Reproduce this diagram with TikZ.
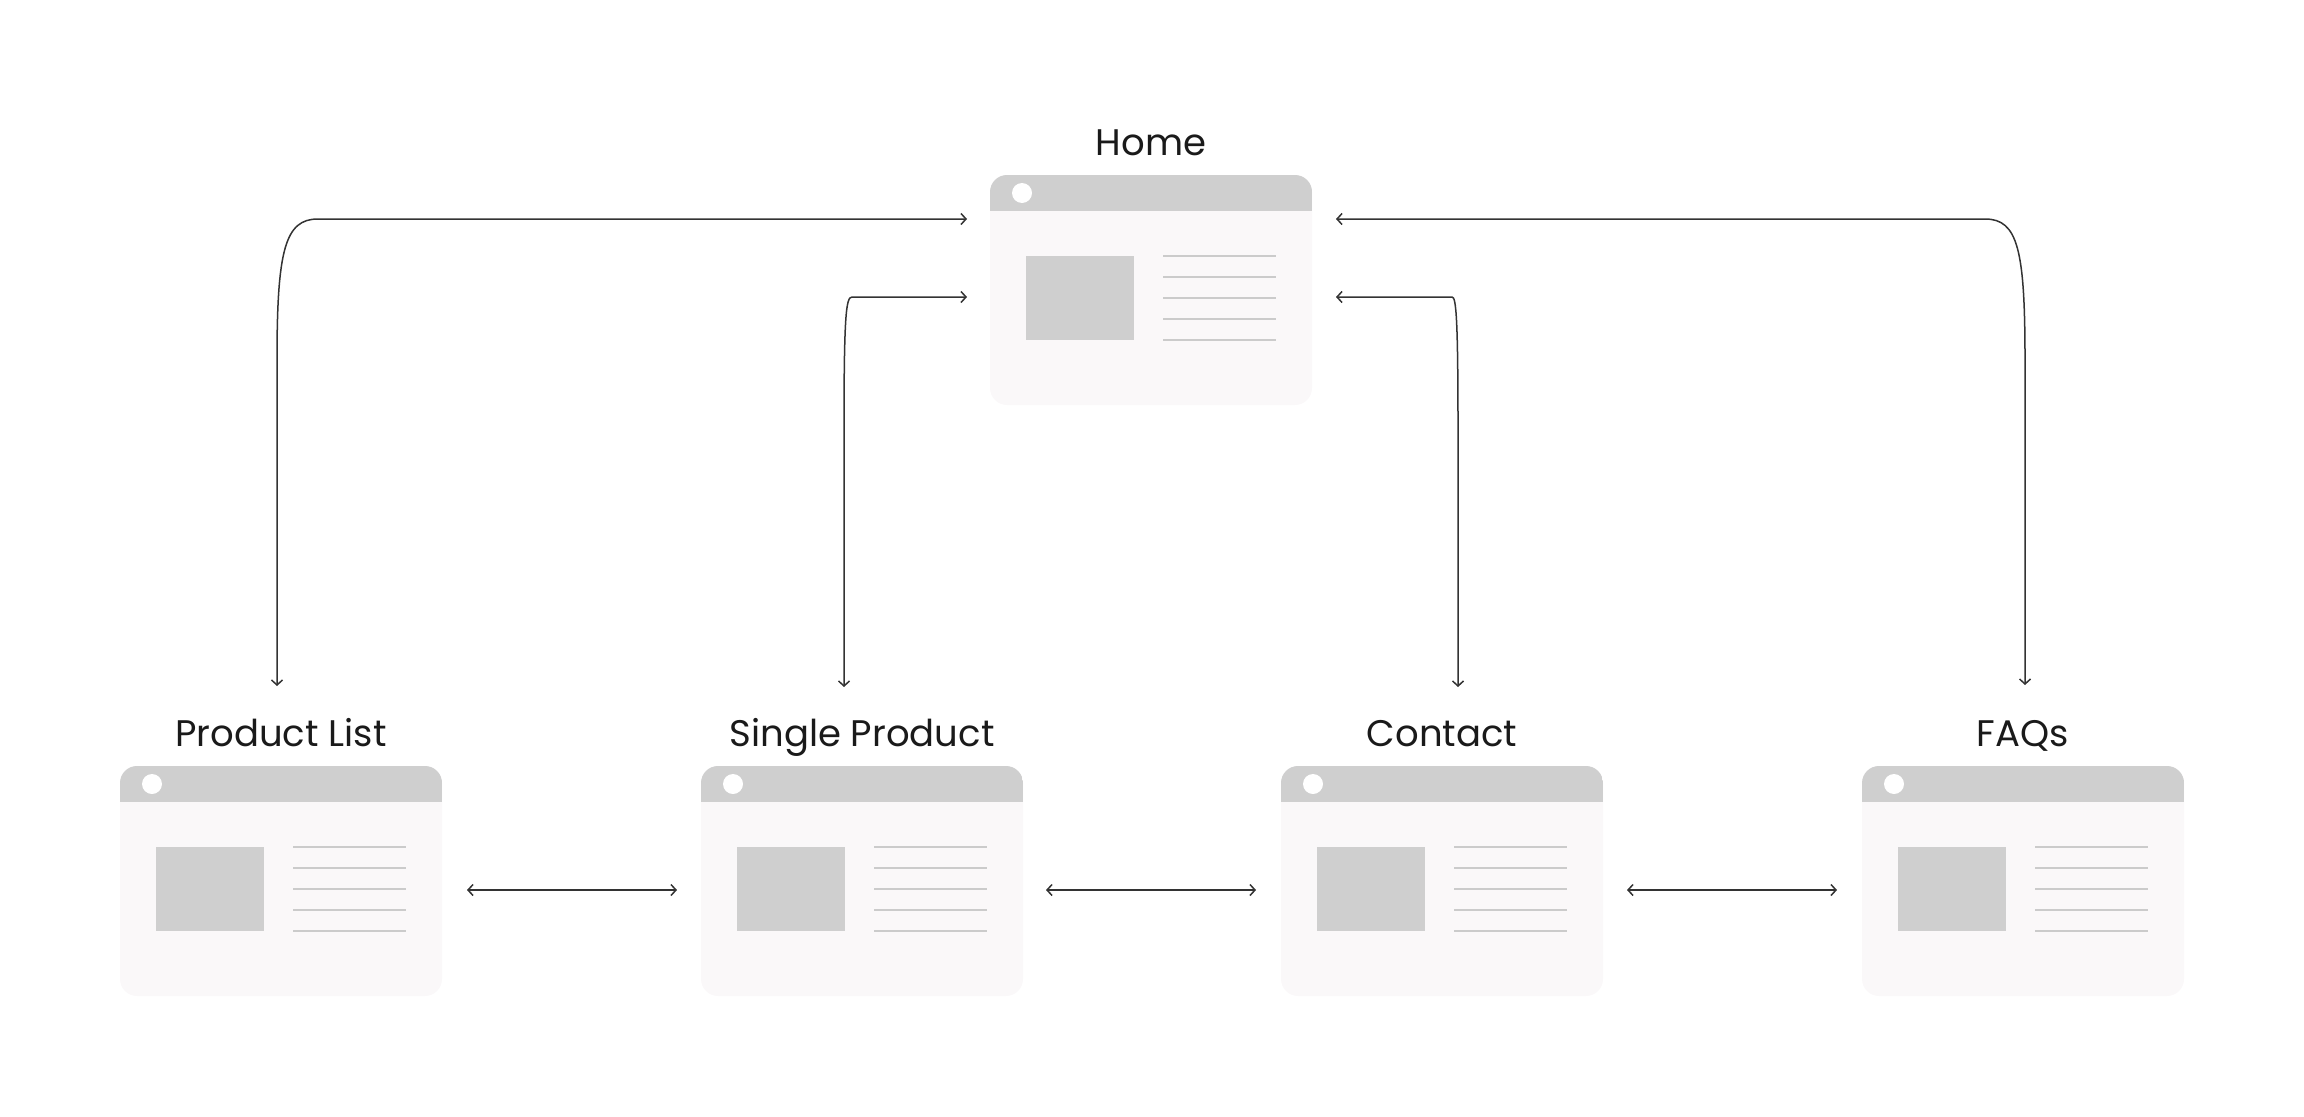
\documentclass[tikz,border=0pt]{standalone}
\usepackage{fontspec}
\setmainfont{Poppins}
\usetikzlibrary{arrows.meta,calc}

\definecolor{bodyfill}{HTML}{FAF8F9}
\definecolor{headfill}{HTML}{CFCFCF}
\definecolor{textline}{HTML}{CBCBCB}
\definecolor{linkcol}{HTML}{333333}
\definecolor{labelcol}{HTML}{1A1A1A}

\tikzset{
  page/.style={rectangle, rounded corners=17pt, fill=bodyfill,
    minimum width=322pt, minimum height=230pt, inner sep=0pt, outer sep=0pt},
  pagelabel/.style={anchor=base, inner sep=0pt,
    font=\fontsize{37}{44}\selectfont, text=labelcol},
  barb/.tip={Straight Barb[length=5pt,width=11pt]},
  link/.style={draw=linkcol, line width=1.5pt, barb-barb},
  textrule/.style={draw=textline, line width=1.5pt},
}

% A browser-window wireframe: name, left x, top y, title
\newcommand\webpage[4]{%
  \node[page] (#1) at (#2+161,#3+115) {};
  \begin{scope}[shift={(#1.north west)}]
    \begin{scope}
      \clip[rounded corners=17pt] (0,0) rectangle (322,230);
      \fill[headfill] (0,0) rectangle (322,36);
    \end{scope}
    \fill[white] (32,18) circle[radius=10pt];
    \fill[headfill] (36,81) rectangle (144,165);
    \foreach \yy in {81,102,123,144,165}
      \draw[textrule] (173,\yy) -- (286,\yy);
  \end{scope}
  \node[pagelabel] (#1-label) at ($(#1.north)+(0,-20)$) {#4};
}

\begin{document}
\begin{tikzpicture}[x=1pt,y=-1pt]
  \useasboundingbox (0,0) rectangle (2304,1116);

  \webpage{home}{990}{175}{Home}
  \webpage{pl}{120}{766}{Product List}
  \webpage{sp}{701}{766}{Single Product}
  \webpage{ct}{1281}{766}{Contact}
  \webpage{faq}{1862}{766}{FAQs}

  % links between the home page and each sub page
  \draw[link] ($(pl.north)+(-4,-80)$) -- (277,360)
    .. controls (277,250) and (285,219) .. (318,219)
    -- ($(home.north west)+(-23,44)$);
  \draw[link] ($(home.north east)+(24,44)$) -- (1985,219)
    .. controls (2018,219) and (2025,250) .. (2025,360)
    -- ($(faq.north)+(2,-81)$);
  \draw[link] ($(sp.north)+(-18,-79)$) -- (844,430)
    .. controls (844,315) and (846,297) .. (852,297)
    -- ($(home.west)+(-23,7)$);
  \draw[link] ($(home.east)+(24,7)$) -- (1452,297)
    .. controls (1456,297) and (1458,315) .. (1458,430)
    -- ($(ct.north)+(16,-79)$);

  % links between neighbouring sub pages
  \draw[link] ($(pl.east)+(25,9)$) -- ($(sp.west)+(-24,9)$);
  \draw[link] ($(sp.east)+(23,9)$) -- ($(ct.west)+(-25,9)$);
  \draw[link] ($(ct.east)+(24,9)$) -- ($(faq.west)+(-25,9)$);
\end{tikzpicture}
\end{document}
